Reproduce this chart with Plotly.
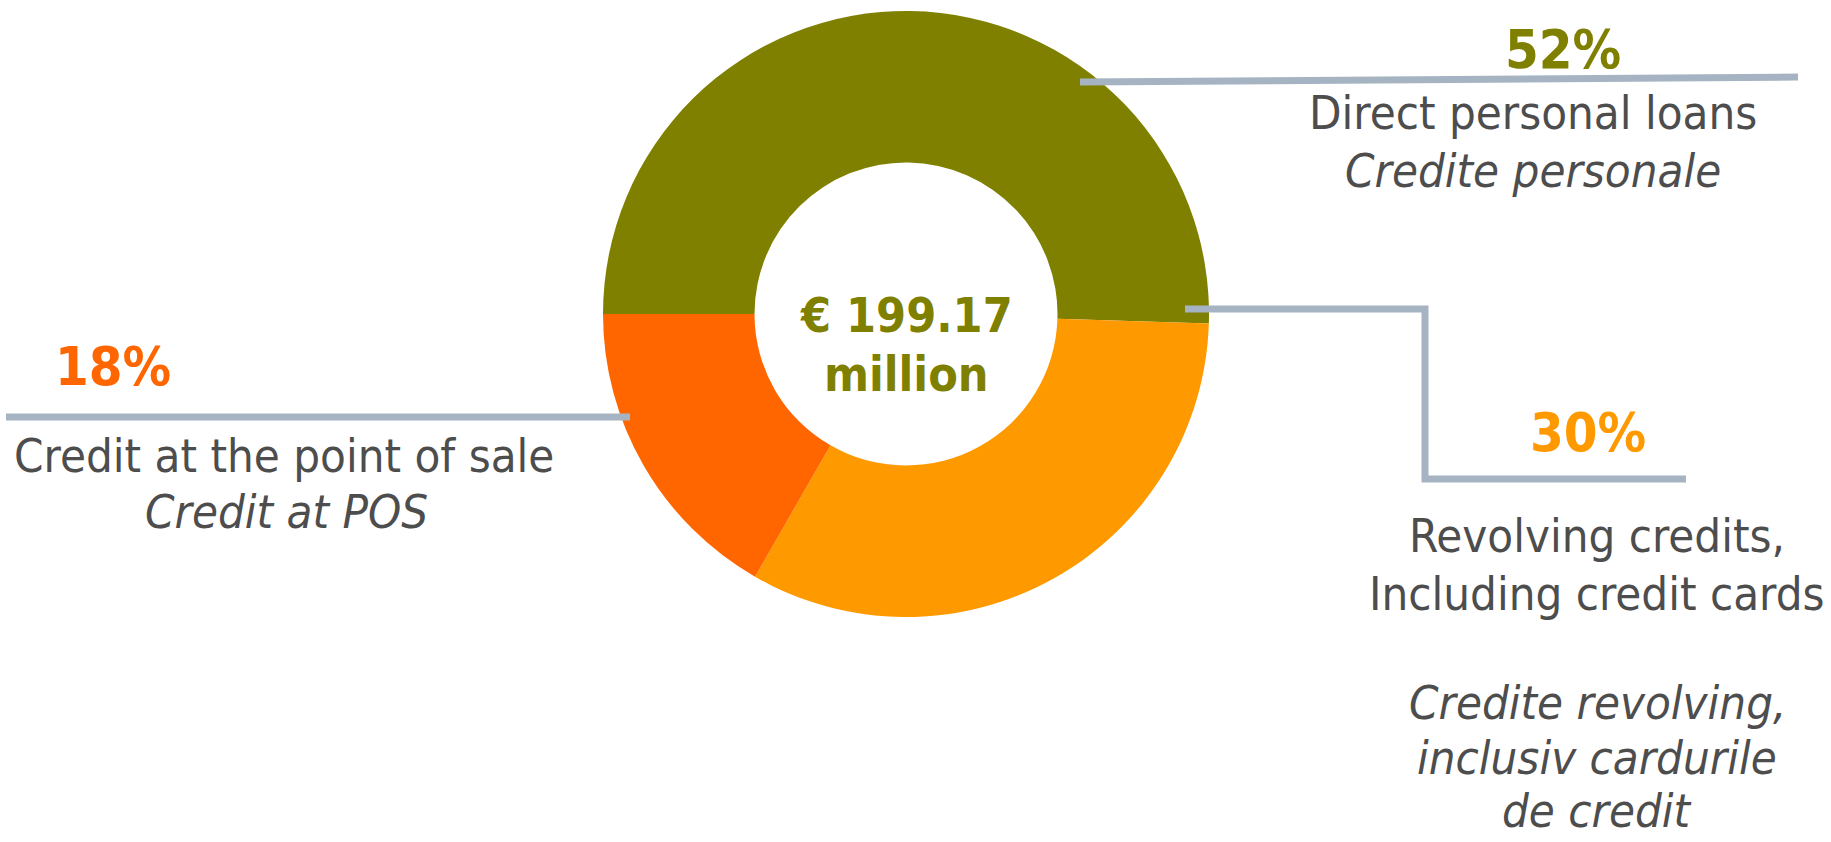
import plotly.graph_objects as go

W, H = 1831, 842

# ---- data ----
categories = ["Direct personal loans", "Revolving credits, Including credit cards", "Credit at the point of sale"]
slice_shares = [50.5, 32.8, 16.7]          # shares as drawn by the arcs
pct_labels = ["52%", "30%", "18%"]         # percentages as printed
slice_colors = ["#808000", "#FF9900", "#FF6600"]
en_labels = [["Direct personal loans"], ["Revolving credits,", "Including credit cards"], ["Credit at the point of sale"]]
ro_labels = [["Credite personale"], ["Credite revolving,", "inclusiv cardurile", "de credit"], ["Credit at POS"]]
total_text = ["€ 199.17", "million"]

FONT = "DejaVu Sans Condensed, DejaVu Sans, sans-serif"
GRAY = "#4D4D4D"
LINE = "#A5B3C2"
FS = 47
FS_PCT = 54
FS_CENTER = 48


def px(x):
    return x / W


def py(y):
    return 1 - y / H


cx, cy, r = 906, 314, 303

fig = go.Figure(go.Pie(
    labels=categories,
    values=slice_shares,
    marker=dict(colors=slice_colors, line=dict(width=0)),
    hole=0.5,
    sort=False,
    direction="clockwise",
    rotation=-90,
    textinfo="none",
    hoverinfo="skip",
    showlegend=False,
    domain=dict(x=[px(cx - r), px(cx + r)], y=[py(cy + r), py(cy - r)]),
))

ann = []


def add(text, x, y, color=GRAY, bold=False, italic=False, size=FS):
    t = text
    if bold:
        t = f"<b>{t}</b>"
    if italic:
        t = f"<i>{t}</i>"
    ann.append(dict(text=t, x=px(x), y=py(y), xref="paper", yref="paper",
                    xanchor="center", yanchor="middle", showarrow=False,
                    font=dict(family=FONT, size=size, color=color)))


# center
add(total_text[0], 906, 315, color=slice_colors[0], bold=True, size=FS_CENTER)
add(total_text[1], 906, 374, color=slice_colors[0], bold=True, size=FS_CENTER)

# Direct personal loans
add(pct_labels[0], 1563, 50, color=slice_colors[0], bold=True, size=FS_PCT)
add(en_labels[0][0], 1533, 112)
add(ro_labels[0][0], 1533, 170, italic=True)

# Revolving
add(pct_labels[1], 1588, 432, color=slice_colors[1], bold=True, size=FS_PCT)
add(en_labels[1][0], 1597, 535)
add(en_labels[1][1], 1597, 593)
add(ro_labels[1][0], 1597, 702, italic=True)
add(ro_labels[1][1], 1597, 757, italic=True)
add(ro_labels[1][2], 1597, 810, italic=True)

# Point of sale
add(pct_labels[2], 113, 366, color=slice_colors[2], bold=True, size=FS_PCT)
add(en_labels[2][0], 284, 455)
add(ro_labels[2][0], 286, 511, italic=True)

shapes = [
    dict(type="line", xref="paper", yref="paper", x0=px(1080), y0=py(82), x1=px(1798), y1=py(77),
         line=dict(color=LINE, width=7)),
    dict(type="line", xref="paper", yref="paper", x0=px(6), y0=py(417), x1=px(630), y1=py(417),
         line=dict(color=LINE, width=7)),
    dict(type="path", xref="paper", yref="paper",
         path=f"M {px(1185)} {py(309)} L {px(1425)} {py(309)} L {px(1425)} {py(479)} L {px(1686)} {py(479)}",
         line=dict(color=LINE, width=7)),
]

fig.update_layout(
    width=W, height=H,
    margin=dict(l=0, r=0, t=0, b=0),
    paper_bgcolor="white", plot_bgcolor="white",
    annotations=ann, shapes=shapes,
)

fig.write_html("out.html",
               config={"displayModeBar": False},
               post_script="document.body.style.margin='0';document.body.style.overflow='hidden';")
